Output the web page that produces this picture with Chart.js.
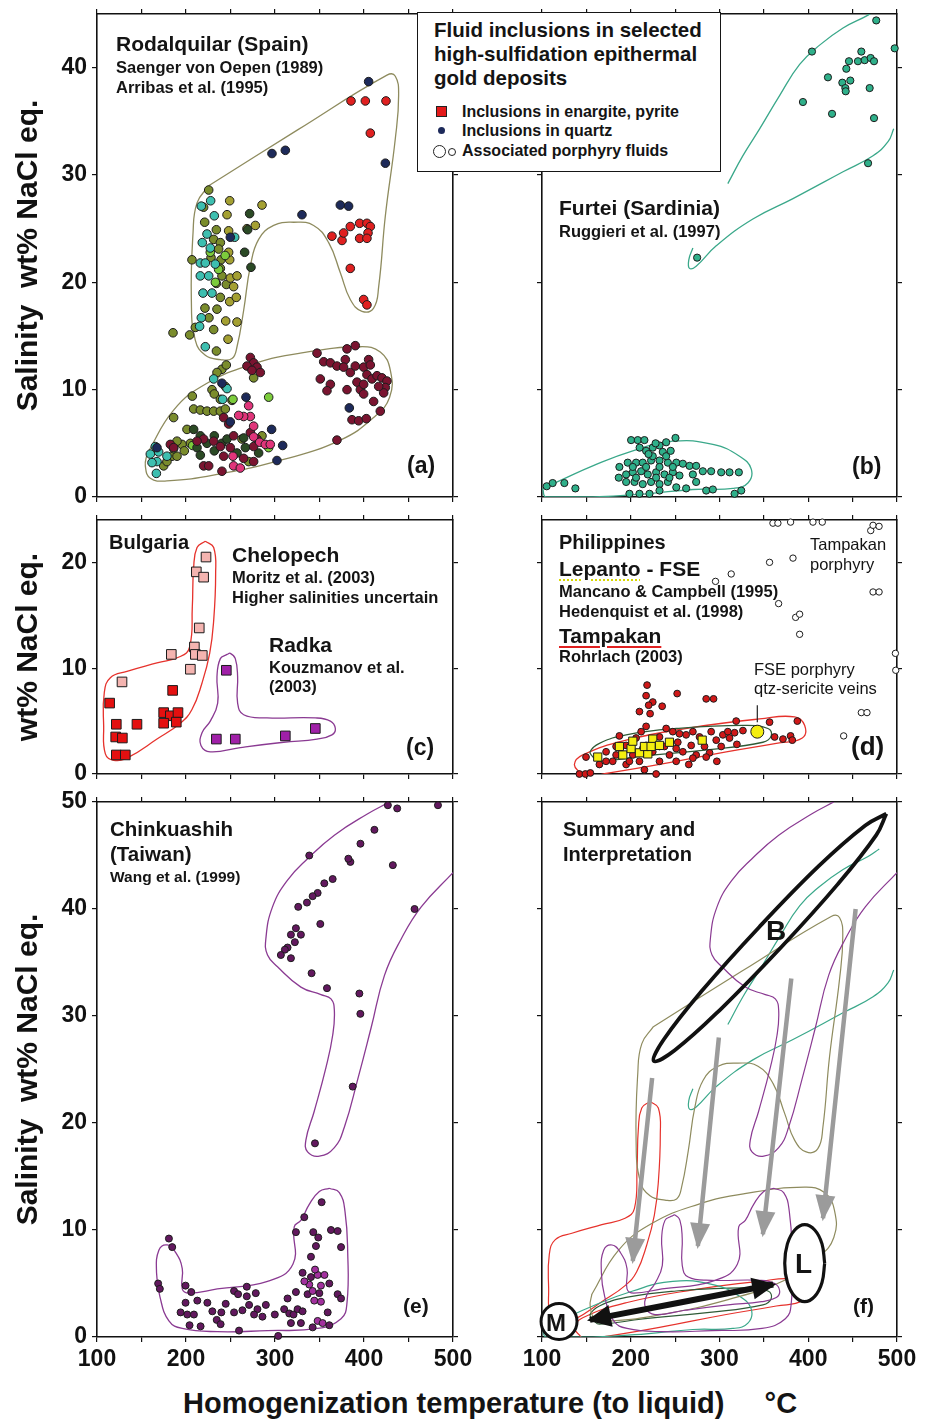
<!DOCTYPE html>
<html>
<head>
<meta charset="utf-8">
<script src="https://cdn.jsdelivr.net/npm/chart.js@4.4.1/dist/chart.umd.min.js"></script>
<style>
  body { margin: 0; width: 933px; height: 1421px; position: relative; overflow: hidden; background: #fff;
         font-family: "Liberation Sans", Arial, sans-serif; }
  canvas { position: absolute; }
  .t { position: absolute; white-space: pre; font-weight: bold; line-height: 1; color: #141414; z-index: 5; }
  .n { font-weight: normal; }
  .box { position: absolute; border: 1.6px solid #161616; background: #fff; z-index: 4; }
  .mk { position: absolute; z-index: 5; box-sizing: border-box; }
</style>
</head>
<body>
<canvas id="pa" width="475" height="505" style="left:0;top:0"></canvas>
<canvas id="pb" width="453" height="505" style="left:480px;top:0"></canvas>
<canvas id="pc" width="475" height="272" style="left:0;top:510px"></canvas>
<canvas id="pd" width="453" height="272" style="left:480px;top:510px"></canvas>
<canvas id="pe" width="475" height="590" style="left:0;top:790px"></canvas>
<canvas id="pf" width="453" height="590" style="left:480px;top:790px"></canvas>

<!-- (a) -->
<div class="t" style="left:116px;top:33px;font-size:21px">Rodalquilar (Spain)</div>
<div class="t" style="left:116px;top:59px;font-size:16.5px">Saenger von Oepen (1989)</div>
<div class="t" style="left:116px;top:79px;font-size:16.5px">Arribas et al. (1995)</div>
<div class="t" style="left:407px;top:454px;font-size:23px">(a)</div>

<!-- legend box -->
<div class="box" style="left:417px;top:12px;width:302px;height:158px"></div>
<div class="t" style="left:434px;top:20px;font-size:20.5px">Fluid inclusions in selected</div>
<div class="t" style="left:434px;top:44px;font-size:20.5px">high-sulfidation epithermal</div>
<div class="t" style="left:434px;top:68px;font-size:20.5px">gold deposits</div>
<div class="mk" style="left:436px;top:106px;width:11px;height:11px;background:#e41a1a;border:1px solid #222"></div>
<div class="t" style="left:462px;top:104px;font-size:16px">Inclusions in enargite, pyrite</div>
<div class="mk" style="left:438px;top:127px;width:7px;height:7px;border-radius:50%;background:#1d2a5a"></div>
<div class="t" style="left:462px;top:123px;font-size:16px">Inclusions in quartz</div>
<div class="mk" style="left:433px;top:145px;width:13px;height:13px;border-radius:50%;border:1.4px solid #222;background:#fff"></div>
<div class="mk" style="left:448px;top:148px;width:8px;height:8px;border-radius:50%;border:1.2px solid #222;background:#fff"></div>
<div class="t" style="left:462px;top:143px;font-size:16px">Associated porphyry fluids</div>

<!-- (b) -->
<div class="t" style="left:559px;top:197px;font-size:21px">Furtei (Sardinia)</div>
<div class="t" style="left:559px;top:223px;font-size:16.5px">Ruggieri et al. (1997)</div>
<div class="t" style="left:852px;top:455px;font-size:23px">(b)</div>

<!-- (c) -->
<div class="t" style="left:109px;top:532px;font-size:20px">Bulgaria</div>
<div class="t" style="left:232px;top:544px;font-size:21px">Chelopech</div>
<div class="t" style="left:232px;top:569px;font-size:16.5px">Moritz et al. (2003)</div>
<div class="t" style="left:232px;top:589px;font-size:16.5px">Higher salinities uncertain</div>
<div class="t" style="left:269px;top:634px;font-size:21px">Radka</div>
<div class="t" style="left:269px;top:659px;font-size:16.5px">Kouzmanov et al.</div>
<div class="t" style="left:269px;top:678px;font-size:16.5px">(2003)</div>
<div class="t" style="left:406px;top:736px;font-size:23px">(c)</div>

<!-- (d) -->
<div class="t" style="left:559px;top:532px;font-size:20px">Philippines</div>
<div class="t" style="left:559px;top:558px;font-size:21px"><span style="text-decoration:underline dotted #d8d800;text-decoration-thickness:2px;text-underline-offset:3px">Lepanto</span> - FSE</div>
<div class="t" style="left:559px;top:583px;font-size:16.5px">Mancano &amp; Campbell (1995)</div>
<div class="t" style="left:559px;top:603px;font-size:16.5px">Hedenquist et al. (1998)</div>
<div class="t" style="left:559px;top:625px;font-size:21px"><span style="text-decoration:underline solid #e02020;text-decoration-thickness:1.5px;text-underline-offset:3px">Tampakan</span></div>
<div class="t" style="left:559px;top:648px;font-size:16.5px">Rohrlach (2003)</div>
<div class="t n" style="left:810px;top:536px;font-size:16.5px">Tampakan</div>
<div class="t n" style="left:810px;top:556px;font-size:16.5px">porphyry</div>
<div class="t n" style="left:754px;top:661px;font-size:16.5px">FSE porphyry</div>
<div class="t n" style="left:754px;top:680px;font-size:16.5px">qtz-sericite veins</div>
<div class="t" style="left:851px;top:733px;font-size:26px">(d)</div>

<!-- (e) -->
<div class="t" style="left:110px;top:819px;font-size:20.5px">Chinkuashih</div>
<div class="t" style="left:110px;top:844px;font-size:20.5px">(Taiwan)</div>
<div class="t" style="left:110px;top:869px;font-size:15.5px">Wang et al. (1999)</div>
<div class="t" style="left:403px;top:1295px;font-size:21px">(e)</div>

<!-- (f) -->
<div class="t" style="left:563px;top:819px;font-size:20px">Summary and</div>
<div class="t" style="left:563px;top:844px;font-size:20px">Interpretation</div>
<div class="t" style="left:766px;top:917px;font-size:28px">B</div>
<div class="t" style="left:795px;top:1250px;font-size:28px">L</div>
<div class="t" style="left:546px;top:1311px;font-size:24px">M</div>
<div class="t" style="left:853px;top:1295px;font-size:21px">(f)</div>

<div class="t" style="left:183px;top:1389px;font-size:29px">Homogenization temperature (to liquid)     °C</div>

<script>
// ---------- panel (a) Rodalquilar ----------
const aUpperEnv = [[225.5,29.0],[325.4,34.2],[425.8,39.3],[435.2,39.2],[438.9,37.4],[435.2,33.4],[424,26.2],[416.5,19.6],
  [410.8,17.6],[397.7,17.3],[384.6,18.4],[373.4,20.9],[360.3,23.7],[343.4,25.3],[321,25.6],[298.5,25.3],[281.6,24],
  [272.3,21.5],[264.8,17.4],[257.3,14],[251.7,12.9],[238.6,12.8],[221.7,13.2],[210.5,14.6],[206,18.4],[207.9,24.6],
  [212.4,27.4],[225.5,29.0]];
const aLowerEnv = [[156.2,4.0],[186.1,8.1],[223.6,10.6],[276,12.4],[328.4,13.4],[395.9,14.0],[418.3,13.5],[429.6,11.8],
  [428.8,9.3],[410.8,7.4],[373.4,5.3],[309.7,3.5],[234.8,2.1],[178.6,1.5],[159.9,1.75],[154.3,2.9],[156.2,4.0]];
const aRed = [[385.4,36.9],[401.5,36.9],[424.7,36.9],[407.1,33.9],[384.6,21.3],[399.6,18.4],[403.3,17.9],[364,24.3],
  [375.3,23.9],[377.1,24.6],[384.6,25.2],[395.1,25.5],[403.3,25.5],[407.1,25.2],[404.5,24.6],[395.1,24.1],[403.3,24.1]];
const aNavy = [[405.2,38.7],[296.6,32.0],[311.6,32.3],[424,31.1],[373.4,27.2],[382.7,27.1],[330.3,26.3],[383.5,8.3],
  [296.2,6.3],[308.6,4.8],[302.2,3.4],[240.4,10.6],[267.4,9.3],[249.8,7.0],[167.4,4.6],[249.8,24.2]];
const aDarkGreen = [[265.9,22.8],[273,21.4],[271.5,26.4],[269.3,24.9],[208.6,6.3],[216.1,5.7],[223.6,5.0],[231.8,5.7],
  [212.4,4.6],[240.4,5.0],[246.1,5.4],[257.3,4.1],[266.7,4.6],[281.6,4.1],[264.8,5.5],[231.8,4.3],[216.1,3.9]];
const aOlive = [[225.5,28.6],[221,25.6],[234.1,24.9],[231.1,24],[238.6,23.7],[236.7,23.1],[206.7,22.1],[228.1,22.3],
  [239.3,22.1],[238.6,21.3],[240.4,20.6],[234.1,19.9],[245.3,19.8],[238.6,18.6],[221.3,17.6],[234.8,17.5],[225.8,16.7],
  [210.5,15.8],[231.1,15.6],[204.1,15.1],[185.4,15.3],[234.2,13.6],[219.8,27],
  [208.6,8.2],[216.1,8.1],[223.6,8],[231.1,8],[238.6,8],[244.2,8.2],[201.1,6.3],[204.9,5],[195.5,4.9],[189.9,5.2],
  [184.3,3.8],[174.9,2.9],[178.6,3.3],[189.9,3.8],[198.1,4.3],[240.4,11.9],[245.3,12.3],[234.8,11.6],[229.2,10],
  [231.8,9.6],[238.6,9.1],[251.7,9],[276,11.1],[207.1,9.4],[186.1,7.4],[244.2,10.3],[270.4,3.3],[262.9,5.4],[285.4,5.7]];
const aKhaki = [[249.1,27.6],[246.1,26.3],[247.9,24.8],[249.8,20.4],[253.5,19.6],[249.1,18.2],[256.5,18.6],[257.3,16.3],
  [244.6,16.4],[247.2,14.7],[277.9,25.3],[285.4,27.2],[268.5,25],[249.1,22.1],[247.9,22.8],[257.3,20.6]];
const aTeal = [[227.7,27.6],[217.2,27.1],[231.8,26.2],[254.7,24.2],[223.6,24.5],[218.3,23.7],[227.3,23.2],[216.1,21.8],
  [221.7,21.8],[232.9,21.7],[216.1,20.6],[225.5,20.6],[219.1,19],[229.2,19],[217.2,16.7],[215.3,15.9],[221.7,14],
  [159.9,4],[165.5,4.7],[169.3,4.2],[167.4,3.3],[161.8,3.2],[178.6,3.8],[166.7,2.2],[231.1,11],[246.1,10.1],[241.2,9.1]];
const aGreen = [[227.3,22.8],[236.7,21.2],[252.8,9.1],[292.9,9.3],[292.9,4.6],[186.1,4.5],[207.5,4.8],[233,20],[244,22.5]];
const aMaroon = [[347.2,13.4],[354.7,12.6],[362.2,12.5],[369.6,12.2],[379,12.8],[380.9,13.8],[390.2,14.1],[377.1,12.1],
  [384.6,11.6],[390.2,12.2],[399.6,12.1],[405.2,12.8],[407.1,12.3],[362.2,10.5],[358.4,9.9],[350.9,11],[380.9,10],
  [392.1,10.7],[395.9,10],[399.6,9.6],[403.3,11.4],[409,11],[414.6,11.3],[420.2,11.1],[425.8,10.8],[423.9,10.2],
  [422.1,9.7],[416.5,10.3],[410.8,8.9],[399.6,10.5],[386.5,7.2],[394,7.1],[402.6,7.3],[418.3,8],[369.6,5.3],
  [272.3,13],[276,12.5],[268.5,12.2],[279.8,12.1],[274.1,11.8],[283.5,11.6],
  [242.3,7.4],[247.9,6.8],[219.8,5.4],[231.1,5.2],[238.6,4.7],[242.3,3.8],[249.8,4.6],[253.5,5.7],[272.3,6],
  [279.8,5.4],[276,4.7],[264.8,3.6],[276,3.3],[219.8,2.9],[225.5,2.9],[240.4,2.4],[212.4,5.2],[182.4,4.9],[186.1,4.6]];
const aPink = [[270.4,8.5],[272.3,7.5],[264.8,7.5],[259.2,7.6],[276,6.6],[276,5.6],[282.8,5.1],[289.1,4.9],[294.7,4.9],
  [253.5,2.9],[261,2.7],[252.8,3.8]];

// ---------- panel (b) Furtei ----------
const bUpperEnv1 = [[309.4,29.2],[326.4,31.8],[345.2,34.3],[367.7,37.4],[390.3,40.3],[412.8,42.1],[439.2,43.7],[467.4,44.9],[480,45.6]];
const bUpperEnv2 = [[496.3,34.3],[489.9,33.1],[473,31.8],[439.2,30.3],[382.8,27.8],[337.6,25.9],[296.3,23.4],[273.7,21.5],
  [266.2,21.3],[265.4,22.1],[270,23.2]];
const bLowerEnv = [[100.8,0.8],[119.6,1.5],[157.2,2.9],[202.3,4.3],[247.4,5.2],[292.5,4.9],[322.6,3.8],[335.8,2.6],
  [332,1.3],[315.1,0.8],[270,0.7],[217.3,0.3],[157.2,0.0],[104.5,0.0],[100.8,0.8]];
const bPts = [[476.6,44.4],[404.2,41.5],[497.4,41.8],[459.8,41.5],[445.9,40.6],[456,40.6],[463.6,40.7],[470.3,40.9],
  [474.1,40.6],[442.9,39.9],[422.2,39.1],[438.4,38.6],[447.4,38.8],[441.8,38.1],[442.2,37.8],[469.2,38.1],[394,36.8],
  [426.8,35.7],[474.1,35.3],[467.4,31.1],[274.8,22.3],
  [105.3,1.0],[112,1.3],[125.2,1.3],[137.6,0.8],[200.4,5.3],[207.9,5.3],[215.4,5.3],[250.4,5.5],[239.9,5.1],[232.4,4.8],
  [224.8,4.6],[217.3,4.3],[236.1,4.2],[196.6,3.2],[206,3.2],[213.5,3.2],[222.9,3.4],[232.4,3.4],[241.8,3.2],[251.3,3.2],
  [258.7,3.1],[266.2,2.9],[273.7,2.9],[281.2,2.4],[290.6,2.4],[301.9,2.3],[311.3,2.3],[321.8,2.3],[186.5,1.8],[194.8,2.1],
  [202.3,2.3],[211.7,2.4],[219.2,2.1],[228.6,2.3],[238,2.1],[247.4,2.3],[254.9,2.0],[194.8,1.4],[204.2,1.4],[213.5,1.2],
  [222.9,1.4],[232.4,1.2],[241.8,1.4],[251.3,0.9],[262.4,0.8],[273.7,1.4],[285,0.6],[292.5,0.7],[317,0.3],[324.5,0.6],
  [198.5,0.3],[209.8,0.3],[221.1,0.3],[232.4,0.6],[202.3,2.8],[217.3,2.8],[232.4,2.8],[247.4,2.8],[224.8,3.8],[239.9,3.8],
  [187.2,2.8],[270,2.1],[228.6,1.8],[243.6,1.8],[206,1.8],[220,4.0],[228,5.0],[210,4.6],[245,4.3]];

// ---------- panel (c) Bulgaria ----------
const cRedEnv = [[221.7,22.0],[212.4,21.4],[208.6,19.5],[207.1,15.8],[204.1,12.0],[193.6,11.1],[167.4,10.5],[133.7,9.7],
  [115,9.1],[108.2,7.7],[107.5,4.5],[109.4,1.9],[118.7,1.3],[135.6,1.6],[167.4,3.3],[193.6,4.8],[206.7,6.1],[218,8.6],
  [226.6,11.4],[231.1,14.5],[233.3,18.9],[231.1,21.4],[221.7,22.0]];
const cPurpleEnv = [[246.1,11.3],[238.6,10.9],[234.8,9.2],[235.6,6.7],[227.3,5.0],[218,3.9],[216.8,2.7],[227.3,2.1],
  [261,2.5],[309.7,3.0],[347.2,3.3],[364,3.7],[367.8,4.3],[362.2,5.0],[345.3,5.3],[291,5.3],[264.8,5.6],[258,6.7],
  [258,9.2],[255.4,10.9],[249.8,11.4],[246.1,11.3]];
const cPink = [[222.5,20.5],[211.6,19.1],[219.8,18.6],[214.9,13.8],[209.4,12.0],[210.5,11.3],[218.3,11.2],[183.5,11.3],
  [204.9,9.9],[128.1,8.7]];
const cRed = [[114.2,6.7],[121.7,4.7],[121,3.5],[128.5,3.4],[121.7,1.8],[131.8,1.8],[144.9,4.7],[185,7.9],[174.9,5.8],
  [182.4,5.5],[191,5.8],[174.9,4.8],[189.1,4.9]];
const cPurple = [[245.3,9.8],[234.1,3.3],[255.4,3.3],[311.6,3.6],[345.3,4.3]];

// ---------- panel (d) Philippines ----------
const dRedEnv = [[144,0],[136.5,0.9],[145.9,1.8],[194.8,3.2],[270,4.4],[345.2,5.2],[384.6,5.4],[395.9,4.6],[393.3,3.4],
  [364,2.9],[307.6,2.1],[232.4,0.9],[176,0.1],[150,-0.2],[144,0]];
const dGreenEnv = [[157.2,1.6],[154.2,2.1],[164.7,2.9],[194.8,3.7],[251.2,4.3],[326.4,4.6],[354.6,4.3],[358.3,3.6],
  [348.9,3.0],[288.8,2.3],[213.6,1.7],[164.7,1.2],[157.2,1.6]];
const dOpen = [[360.2,23.7],[365.8,23.7],[380.1,23.8],[405.3,23.8],[415.8,23.8],[470.4,23.0],[473,23.5],[479.8,23.4],
  [356.4,20.0],[382.8,20.4],[313.2,18.9],[295.5,18.2],[366.6,16.1],[385.8,14.8],[390.3,15.1],[390.3,13.2],[473,17.2],
  [479.8,17.2],[498.2,11.4],[498.6,9.8],[459.8,5.8],[466.2,5.8],[439.9,3.6]];
const dRed = [[218.4,8.4],[217.3,7.4],[252.3,7.6],[285,7.1],[293.3,7.1],[224.8,6.8],[220.2,6.5],[209.8,5.9],[221.8,5.7],
  [235.4,6.4],[217.3,4.5],[318.8,5.0],[356.4,4.9],[387.7,5.0],[362.1,3.5],[371.5,3.3],[380.1,3.6],[382,3.2],[326.4,4.1],
  [317,3.9],[319.6,2.8],[297,1.2],[265.4,0.9],[228.6,0],[215.4,0.4],[149.6,1.6],[142.1,0],[148.9,0],[154.5,0.1],
  [172.2,2.1],[183.5,2.6],[187.2,3.6],[194.8,2.7],[202.3,1.8],[206,3.4],[211.7,4.0],[217.3,2.7],[224.8,2.1],[232.4,3.5],
  [238,2.6],[243.6,1.8],[247.4,4.0],[253,3.0],[258.7,2.1],[262.4,3.7],[268.1,2.7],[273.7,1.8],[277.5,3.5],[283.1,2.6],
  [288.8,2.0],[290.6,4.0],[296.3,3.2],[301.9,2.6],[303.8,3.7],[309.4,4.0],[311.3,3.4],[179.7,1.2],[194.8,0.9],
  [209.8,1.2],[232.4,1.2],[251.2,1.2],[270,1.5],[285,1.6],[239.9,4.3],[254.9,3.8],[270,4.0],[251.2,2.4],[232.4,2.6],
  [213.6,2.4],[198.5,1.2],[183.5,1.8],[164.7,0.9],[172.2,1.2]];
const dYellow = [[162.8,1.6],[191,1.8],[200.4,2.4],[209.8,2.0],[219.2,1.9],[215.4,2.6],[224.8,3.3],[232.4,2.7],
  [243.6,3.0],[280.5,3.2],[187.2,2.6],[202.3,3.1],[222.9,2.6]];
const dVein = [[342.6,4.0]];
const dLeader = [[342.6,6.5],[342.6,4.9]];

// ---------- panel (e) Chinkuashih ----------
const eUpperEnv = [[428.7,50.0],[404.2,48.9],[366.7,46.9],[336.6,44.7],[314.1,42.7],[297.2,40.2],[289.7,37.2],[291.6,35.7],
  [302.8,34.6],[329.1,32.7],[351.6,32.0],[362.9,31.6],[366.7,30.5],[364.8,28.2],[357.3,25.2],[344.1,21.1],[334.7,18.4],
  [336.6,17.3],[349.8,16.9],[366.7,17.7],[377.9,19.6],[393,24.1],[408,28.9],[423,33.8],[441.8,37.2],[464.3,40.2],[500,43.4]];
const eLowerEnv = [[361,13.9],[349.8,13.6],[338.5,12.4],[329.1,10.9],[321.6,10.3],[320.1,6.8],[291.6,5.2],[235.2,4.5],
  [203.3,4.1],[195.8,4.5],[195.8,6.4],[188.3,7.9],[178.9,8.6],[169.5,8.1],[166.9,6.0],[170.6,3.8],[180.8,1.5],
  [195.8,0.8],[235.2,0.5],[291.6,0.6],[347.9,0.8],[374.2,1.7],[380.9,3.2],[381.7,7.9],[378.7,11.7],[372.3,13.5],[361,13.9]];
const eUpperPts = [[338.5,45.0],[483.1,49.7],[426.8,49.7],[437.3,49.4],[411.7,47.4],[396,46.1],[384.7,44.4],[382.4,44.7],
  [432.4,44.1],[364.8,42.8],[355.4,42.4],[347.9,41.5],[342.3,41.2],[335.9,40.6],[326.1,40.2],[456.8,40.0],[350.9,38.6],
  [323.5,38.2],[317.9,37.6],[329.1,37.6],[322.3,36.9],[314.1,36.4],[311.1,36.2],[317.9,35.4],[306.6,35.7],[341.1,34.0],
  [358.4,32.6],[394.8,32.1],[395.9,30.2],[387.3,23.4],[344.9,18.1]];
const eLowerPts = [[180.8,9.2],[184.5,8.4],[168.7,5.0],[170.6,4.5],[199.5,4.8],[205.9,4.2],[201.4,2.1],[208.9,2.1],[204,1.1],
  [216.4,1.0],[229.6,2.4],[239.7,2.3],[234.5,1.6],[238.9,1.2],[244.6,3.1],[254,4.3],[258.5,4.0],[259.6,0.6],[268.3,4.7],
  [268.3,3.8],[270.9,3.0],[263.4,2.5],[278.4,4.1],[280.3,2.6],[276.5,2.1],[285.9,1.9],[289.7,3.0],[299.8,2.1],[303.6,0.1],
  [310.3,2.6],[314.1,3.6],[316,2.2],[317.9,1.3],[320.8,2.1],[323.5,4.2],[325.4,2.6],[329.1,1.3],[331,2.4],[323.5,9.8],
  [332.9,11.2],[352.4,12.6],[343,9.8],[348.6,9.3],[346,8.5],[362.9,10.0],[370.4,9.9],[374.2,8.4],[340.4,7.5],[331,6.0],
  [340.4,5.6],[361,5.0],[370.4,4.0],[374.2,3.6],[349.8,4.1],[336.6,4.0],[359.2,2.3],[361,1.1],[342.3,0.9],[224,3.2],
  [254,2.3],[212.7,3.4],[193.9,2.3],[199.5,3.2]];
const eLightPts = [[338.5,4.9],[351.6,4.8],[347.9,5.8],[355.6,5.8],[344.1,3.4],[351.6,3.3],[342.3,4.3],[347.9,1.5],
  [353.5,1.3],[333,5.2],[345,6.3]];

// ---------- panel (f) summary ----------
const fB = [[488.0,48.9],[476.6,46.9],[433.1,42.3],[369.2,36.4],[302.1,30.7],[249.6,26.8],[225.9,25.8],[237.2,27.8],
  [280.7,32.4],[344.6,38.3],[411.7,44.0],[464.2,47.8],[488.0,48.9]];
const fL = [[418.5,6.9],[415.5,8.7],[407.3,10.0],[396,10.5],[384.8,10.0],[376.5,8.7],[373.5,6.9],[376.5,5.1],[384.8,3.8],
  [396,3.3],[407.3,3.8],[415.5,5.1],[418.5,6.9]];
const fM = [[119.2,1.45]];
const fLiquidVapour = [[154,1.6],[360.5,4.9]];
const fArrow1 = [[224.1,24.2],[202.3,7.1]];
const fArrow2 = [[299.3,28.0],[275.6,8.5]];
const fArrow3 = [[380.9,33.5],[348.9,9.6]];
const fArrow4 = [[453.4,40.0],[416.6,11.1]];

// ---------- colours ----------
const olive = '#8e8b5e', teal = '#3aa88a', red = '#e6322c', purple = '#8a3a92', dkGreen = '#2f5a36';

Chart.defaults.font.family = '"Liberation Sans", Arial, sans-serif';
Chart.defaults.color = '#111';

const xy = arr => arr.map(p => ({x: p[0], y: p[1]}));

function pts(data, color, r, style) {
  return {data: xy(data), showLine: false, pointRadius: r, pointHoverRadius: r, pointBackgroundColor: color,
    pointBorderColor: '#1c1c1c', pointBorderWidth: 1, pointStyle: style || 'circle', clip: false};
}
function env(data, color, w) {
  return {data: xy(data), showLine: true, pointRadius: 0, pointHoverRadius: 0, borderColor: color,
    borderWidth: w || 1.3, tension: 0.45, fill: false};
}

function makeScales(o) {
  const tickFont = {size: 23, weight: 'bold'};
  const grid = {drawOnChartArea: false, drawTicks: true, tickLength: 5, color: '#111', lineWidth: 1.2};
  const border = {display: true, color: '#111', width: 1.6};
  return {
    x: {type: 'linear', position: 'bottom', min: 100, max: 500, grid, border,
      ticks: {display: !!o.xLabels, stepSize: 50, autoSkip: false, maxRotation: 0, color: '#111', font: tickFont, padding: 4,
        callback: v => (v % 100 === 0 ? String(v) : '')},
      afterFit: s => { s.height = o.bottom; s.paddingLeft = 0; s.paddingRight = 0; }},
    xTop: {type: 'linear', position: 'top', min: 100, max: 500, grid, border,
      ticks: {display: false, stepSize: 50},
      afterFit: s => { s.height = o.top; s.paddingLeft = 0; s.paddingRight = 0; }},
    y: {type: 'linear', position: 'left', min: 0, max: o.ymax, grid, border,
      ticks: {display: !!o.yLabels, stepSize: 10, includeBounds: false, color: '#111', font: tickFont, padding: 5},
      title: {display: !!o.yTitle, text: o.yTitle || '', color: '#111', font: {size: 30, weight: 'bold'},
        padding: {top: 11, bottom: 0}},
      afterFit: s => { s.width = o.left; s.paddingTop = 0; s.paddingBottom = 0; }},
    yRight: {type: 'linear', position: 'right', min: 0, max: o.ymax, grid, border,
      ticks: {display: false, stepSize: 10, includeBounds: false},
      afterFit: s => { s.width = o.right; s.paddingTop = 0; s.paddingBottom = 0; }}
  };
}

// arrow heads at the ends of the arrow datasets, positioned from the library's own point elements
const arrowHeads = {
  id: 'arrowHeads',
  afterDatasetsDraw(chart) {
    const ctx = chart.ctx;
    chart.data.datasets.forEach((ds, i) => {
      if (!ds.heads) return;
      const p = chart.getDatasetMeta(i).data;
      const n = p.length;
      const draw = (tip, from) => {
        const a = Math.atan2(tip.y - from.y, tip.x - from.x);
        ctx.save();
        ctx.translate(tip.x, tip.y);
        ctx.rotate(a);
        ctx.beginPath();
        ctx.moveTo(3, 0);
        ctx.lineTo(3 - ds.heads.len, -ds.heads.half);
        ctx.lineTo(3 - ds.heads.len, ds.heads.half);
        ctx.closePath();
        ctx.fillStyle = ds.borderColor;
        ctx.fill();
        ctx.restore();
      };
      draw(p[n - 1], p[n - 2]);
      if (ds.heads.both) draw(p[0], p[1]);
    });
  }
};

function makeChart(id, datasets, o, plugins) {
  return new Chart(document.getElementById(id), {
    type: 'scatter',
    data: {datasets},
    options: {
      responsive: false, animation: false, devicePixelRatio: 1, events: [],
      layout: {padding: 0, autoPadding: false},
      scales: makeScales(o),
      plugins: {legend: {display: false}, tooltip: {enabled: false}}
    },
    plugins: plugins || []
  });
}

const leftRow = (ymax, top, bottom, title, xl) => ({ymax, top, bottom, left: 97, right: 22, yLabels: true, yTitle: title, xLabels: xl});
const rightRow = (ymax, top, bottom, xl) => ({ymax, top, bottom, left: 62, right: 36, yLabels: false, xLabels: xl});

// (a)
makeChart('pa', [
  pts(aRed, '#e02020', 4.3), pts(aNavy, '#1d2a5a', 4.3), pts(aPink, '#e0357a', 4.3), pts(aMaroon, '#7a1430', 4.3),
  pts(aDarkGreen, '#2b4a25', 4.3), pts(aTeal, '#3dbfb0', 4.3), pts(aGreen, '#7ccc3c', 4.3), pts(aKhaki, '#a4a032', 4.3),
  pts(aOlive, '#7a8c2c', 4.3),
  env(aUpperEnv, olive), env(aLowerEnv, olive)
], leftRow(45, 14, 8, 'Salinity  wt% NaCl eq.', false));

// (b)
makeChart('pb', [
  pts(bPts, '#2fb08a', 3.6),
  env(bUpperEnv1, teal), env(bUpperEnv2, teal), env(bLowerEnv, teal)
], rightRow(45, 14, 8, false));

// (c)
makeChart('pc', [
  pts(cPink, '#f4b4b0', 6.8, 'rect'), pts(cRed, '#e41010', 6.8, 'rect'), pts(cPurple, '#a020a8', 6.8, 'rect'),
  env(cRedEnv, red), env(cPurpleEnv, purple)
], leftRow(24, 10, 8, 'wt% NaCl eq.', false));

// (d)
makeChart('pd', [
  pts(dVein, '#f4ee10', 6.5), pts(dYellow, '#f4ee10', 5.8, 'rect'), pts(dRed, '#d01818', 3.4), pts(dOpen, '#ffffff', 3.2),
  env(dLeader, '#222', 1.2), env(dGreenEnv, dkGreen), env(dRedEnv, red)
], rightRow(24, 10, 8, false));

// (e)
makeChart('pe', [
  pts(eLightPts, '#a2309e', 3.5), pts(eLowerPts, '#62185e', 3.5), pts(eUpperPts, '#62185e', 3.5),
  env(eUpperEnv, purple), env(eLowerEnv, purple)
], leftRow(50, 12, 43, 'Salinity  wt% NaCl eq.', true));

// (f)
const grey = '#9b9b9b';
makeChart('pf', [
  Object.assign(pts(fM, '#ffffff', 18), {pointBorderColor: '#111', pointBorderWidth: 3}),
  Object.assign(env(fL, '#111', 3.2), {fill: 'shape', backgroundColor: '#fff', tension: 0.4}),
  Object.assign(env(fLiquidVapour, '#111', 6), {heads: {len: 24, half: 11, both: true}}),
  Object.assign(env(fB, '#111', 3.8), {tension: 0.4}),
  Object.assign(env(fArrow1, grey, 4.5), {heads: {len: 26, half: 10}}),
  Object.assign(env(fArrow2, grey, 4.5), {heads: {len: 26, half: 10}}),
  Object.assign(env(fArrow3, grey, 4.5), {heads: {len: 26, half: 10}}),
  Object.assign(env(fArrow4, grey, 4.5), {heads: {len: 26, half: 10}}),
  env(eUpperEnv, purple, 1.2), env(eLowerEnv, purple, 1.2), env(cPurpleEnv, purple, 1.2),
  env(aUpperEnv, olive, 1.2), env(aLowerEnv, olive, 1.2),
  env(bUpperEnv1, teal, 1.2), env(bUpperEnv2, teal, 1.2), env(bLowerEnv, teal, 1.2),
  env(dGreenEnv, dkGreen, 1.2), env(cRedEnv, red, 1.2), env(dRedEnv, red, 1.2)
], rightRow(50, 12, 43, true), [arrowHeads]);
</script>
</body>
</html>
